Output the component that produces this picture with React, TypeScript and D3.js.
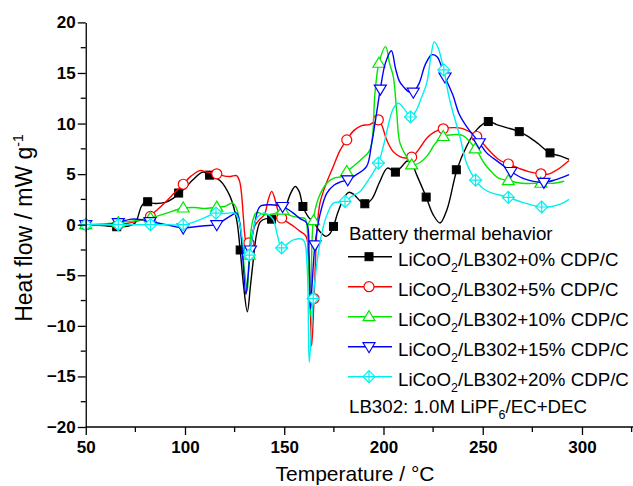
import React, { useEffect, useRef } from 'react';
import * as d3 from 'd3';

const W = 633;
const H = 486;

// axis ticks
const xMajor = [50, 100, 150, 200, 250, 300];
const xMinor = [75, 125, 175, 225, 275, 325];
const yMajor = [-20, -15, -10, -5, 0, 5, 10, 15, 20];
const yMinor = [-17.5, -12.5, -7.5, -2.5, 2.5, 7.5, 12.5, 17.5];

const seriesLabels = ['+0% CDP/C', '+5% CDP/C', '+10% CDP/C', '+15% CDP/C', '+20% CDP/C'];
const seriesColors = ['#000000', '#ff0000', '#00e600', '#0000ff', '#00f0f0'];
const seriesShapes = ['square', 'circle', 'triangle', 'triangleDown', 'diamondPlus'];

// [temperature, heat flow]
const line0 = [
  [50, 0], [60, -0.1], [65, -0.2], [72, -0.1], [75, 0.2], [78, 1.8], [80, 2.25], [85, 2.1], [90, 2.2],
  [94, 2.6], [97, 3.13], [100, 3.6], [104, 4.44], [109, 5.2], [112.4, 4.9], [117.6, 4.37], [122.7, 2.8],
  [126, 0.5], [127.8, -2.5], [129.5, -6], [131.4, -8.6], [133, -6], [134.4, -3.5], [136, -1], [138, 0.3],
  [141, 0.6], [143.6, 0.55], [147, 0.7], [150, 1.4], [153, 3.0], [155.5, 3.78], [157.5, 3.3], [159.4, 1.8],
  [162, 0.8], [165, 0.2], [168, -0.7], [171, -1.15], [173, -0.9], [174.8, -0.17], [177, 1.2], [180, 2.6],
  [182.5, 3.2], [185, 3.0], [188, 2.4], [190.6, 2.07], [194, 2.5], [198, 4.2], [202, 5.6], [206, 5.2],
  [209, 5.7], [212, 6.3], [214, 6.1], [217, 4.8], [221.5, 2.73], [225, 1.0], [228.5, 0.17], [232, 1.5],
  [237, 5.43], [242, 7.8], [247, 9.4], [252.8, 10.2], [257, 9.9], [262, 9.6], [268.4, 9.2], [273, 8.7],
  [278, 8.0], [284, 7.07], [289, 6.8], [293.5, 6.45]
];
const line5 = [
  [50, 0], [60, 0], [70, 0.1], [75, 0.3], [80, 0.6], [85, 1.3], [90, 2.2], [95, 3.2], [99.1, 4.0],
  [103, 4.8], [107.5, 5.35], [111, 5.2], [116, 5.03], [120, 4.8], [123, 4.77], [126, 4.85], [127.5, 4.3],
  [128.5, 3.0], [129.5, 0.5], [130.5, -1.5], [132, -2.2], [133, -1.8], [135, -0.17], [137.5, 0.5],
  [140, 1.0], [142, 2.5], [143.7, 3.29], [145.5, 2.4], [147, 1.3], [148.7, 0.66], [152, 0.2], [155, -0.2],
  [158, -0.66], [161, -1.15], [162.5, -4], [163.8, -12], [165, -7.3], [166.5, -0.5], [168, 2.14],
  [171, 4.0], [174.7, 5.76], [178, 7.3], [181.5, 8.39], [185, 9.3], [189, 9.8], [193, 9.9], [197.4, 10.37],
  [199, 9.9], [202, 8.2], [205, 7.2], [208.3, 6.74], [211, 6.6], [214.2, 6.68], [218, 7.5], [222, 8.6],
  [226, 9.2], [230.1, 9.48], [235, 9.6], [240, 9.5], [247, 8.72], [252, 7.6], [258, 6.45], [262.9, 6.0],
  [268, 5.6], [273, 5.25], [279.3, 5.03], [283, 5.0], [288, 5.5], [293.5, 6.35]
];
const line10 = [
  [50, 0], [60, 0.1], [66.4, 0.2], [75, 0.4], [82.6, 0.66], [90, 1.1], [99.1, 1.65], [105, 1.7],
  [110, 1.6], [116, 1.74], [120, 1.8], [124, 2.14], [126, 1.6], [128, -0.5], [130, -4.5], [131.4, -6.5],
  [132.3, -3.0], [134, 0.3], [136, 1.2], [140, 1.0], [145, 1.1], [149, 1.45], [152, 1.0], [155, 0.8],
  [158, 0.7], [160.5, 0.6], [162, -3], [163.2, -9], [164.6, 0.33], [167, 2.5], [171.4, 4.1], [175, 4.6],
  [179.8, 4.8], [181.5, 5.26], [185, 5.8], [189, 6.5], [193.2, 7.4], [195.7, 13], [197.7, 15.96],
  [201.1, 17.6], [203, 16.0], [205, 14.6], [206.6, 11.3], [208.3, 8.06], [211.6, 6.74], [214.2, 5.92],
  [218, 6.1], [222, 6.8], [226, 8.0], [230.1, 8.72], [235, 8.9], [240, 8.8], [246.4, 7.5], [251, 6.0],
  [255, 5.1], [258, 4.6], [262.9, 4.35], [270, 4.1], [279.3, 4.1], [286, 4.1], [291, 4.3]
];
const line15 = [
  [50, 0], [60, 0], [66, 0.2], [73, 0.55], [78, 0.5], [82.4, 0.3], [88, 0.1], [93, -0.1], [99.1, -0.33],
  [105, -0.2], [110, -0.1], [116, 0], [120, 0.5], [124, 1.0], [126, 1.15], [127.5, 0.3], [129, -3],
  [130.7, -6.9], [131.8, -5], [133, -2.5], [135, 0], [137.8, 1.8], [142.8, 1.97], [149.2, 1.8], [152, 1.5],
  [154.6, 1.15], [158, 0.6], [161.3, 0.17], [162.5, -3], [163.2, -8.3], [164, -6], [165.5, -2.0],
  [168, 1.0], [171.4, 3.1], [175, 3.9], [178, 4.2], [182, 4.44], [186, 4.9], [191.5, 5.76], [194, 8.0],
  [196.5, 11], [198.4, 13.4], [201, 16], [204, 17.2], [206, 15.5], [208, 14.2], [210, 13.65], [213, 13.1],
  [215, 13.1], [218, 14.0], [221, 15.8], [224.3, 16.8], [227, 16.6], [231, 14.6], [235, 12.8], [238, 11.0],
  [241.9, 9.7], [248.3, 8.1], [252, 7.1], [258.7, 6.09], [264.2, 5.26], [270, 4.6], [275.5, 4.28],
  [280.8, 4.18], [286, 4.4], [293.5, 4.95]
];
const line20 = [
  [50, 0], [60, 0], [70, 0], [82.6, 0], [90, 0], [99.1, 0], [105, 0.3], [110, 0.7], [115.6, 1.15],
  [120, 1.1], [125, 1.15], [127, 0.5], [129, -1.5], [131, -3.3], [132.4, -3.0], [134, -1], [136, 0.6],
  [139.4, 1.15], [142, 1.0], [144.5, 0.5], [146.5, -1.0], [148.7, -2.3], [151, -2.0], [154.6, -1.5],
  [159.6, -1.5], [161.5, -4], [162.6, -13.6], [164.6, -7.3], [167, -3], [169.7, -0.17], [172, 1.2],
  [174.7, 2.14], [180.6, 2.3], [184, 2.8], [188.2, 3.29], [193, 4.6], [197.4, 6.09], [200, 7.8],
  [202, 9.5], [205, 11.5], [207.5, 12.0], [211, 11.3], [213.6, 10.65], [216.5, 11.3], [219, 12.5],
  [221.8, 14.0], [224, 16.8], [225.6, 18.1], [227.5, 17.5], [230.4, 15.3], [233.4, 12.3], [238.5, 8.7],
  [242, 6.0], [246.4, 4.4], [250, 3.6], [253.7, 3.2], [262.9, 2.7], [270, 2.2], [279.7, 1.75], [285, 1.8],
  [290, 2.1], [293.5, 2.5]
];

// symbols drawn on each curve
const marks0 = [
  [50, 0], [65.6, -0.2], [81.2, 2.27], [96.8, 3.13], [112.4, 4.9], [127.8, -2.5], [143.6, 0.55],
  [159.4, 1.8], [174.8, -0.17], [190.6, 2.07], [206, 5.2], [221.5, 2.73], [236.7, 5.43], [252.8, 10.2],
  [268.4, 9.2], [283.9, 7.1]
];
const marks5 = [
  [50, 0], [66.4, 0], [82.6, 0.82], [99.1, 4.0], [116, 5.03], [132.2, -1.8], [148.7, 0.66], [165, -7.3],
  [181.5, 8.39], [197.4, 10.37], [214.2, 6.68], [230.1, 9.48], [247, 8.72], [262.9, 6.0], [279.3, 5.03]
];
const marks10 = [
  [50, 0], [66.4, 0.2], [82.6, 0.66], [99.1, 1.65], [116, 1.74], [132.3, -3.0], [149.3, 1.45],
  [164.8, 0.4], [181.5, 5.26], [197.7, 15.96], [214.2, 5.92], [230.1, 8.72], [246.2, 7.5], [262.9, 4.35],
  [279.3, 4.1]
];
const marks15 = [
  [50, 0], [66.4, 0.2], [82.4, 0.3], [99.1, -0.33], [116, 0], [133, -2.5], [149.2, 1.8], [165.5, -2.0],
  [182, 4.44], [198.4, 13.4], [215, 13.1], [231, 14.6], [248.3, 8.1], [264.2, 5.26], [280.8, 4.18]
];
const marks20 = [
  [50, 0], [66.4, 0], [82.6, 0], [99.1, 0], [115.6, 1.15], [132.4, -3.0], [148.7, -2.3], [164.6, -7.3],
  [180.6, 2.3], [197.4, 6.09], [213.6, 10.65], [230.4, 15.3], [246.4, 4.4], [262.9, 2.7], [279.7, 1.75]
];

const lines = [line0, line5, line10, line15, line20];
const marks = [marks0, marks5, marks10, marks15, marks20];

const FONT = 'Arial, "Liberation Sans", sans-serif';

function drawMarker(g, shape, x, y, color) {
  if (shape === 'square') {
    g.append('rect').attr('x', x - 4).attr('y', y - 4).attr('width', 8).attr('height', 8)
      .attr('fill', color).attr('stroke', color).attr('stroke-width', 1);
  } else if (shape === 'circle') {
    g.append('circle').attr('cx', x).attr('cy', y).attr('r', 5)
      .attr('fill', '#fff').attr('stroke', color).attr('stroke-width', 1.2);
  } else if (shape === 'triangle') {
    g.append('path').attr('d', `M${x},${y - 6}L${x + 6},${y + 4}L${x - 6},${y + 4}Z`)
      .attr('fill', '#fff').attr('stroke', color).attr('stroke-width', 1.2);
  } else if (shape === 'triangleDown') {
    g.append('path').attr('d', `M${x},${y + 6}L${x + 6},${y - 4}L${x - 6},${y - 4}Z`)
      .attr('fill', '#fff').attr('stroke', color).attr('stroke-width', 1.2);
  } else {
    g.append('path').attr('d', `M${x},${y - 6}L${x + 6},${y}L${x},${y + 6}L${x - 6},${y}Z`)
      .attr('fill', '#fff').attr('stroke', color).attr('stroke-width', 1.2);
    g.append('path').attr('d', `M${x},${y - 6}V${y + 6}M${x - 6},${y}H${x + 6}`)
      .attr('fill', 'none').attr('stroke', color).attr('stroke-width', 1.2);
  }
}

const Chart = () => {
  const ref = useRef(null);

  useEffect(() => {
    const svg = d3.select(ref.current);
    svg.selectAll('*').remove();

    const x = d3.scaleLinear().domain([50, 325]).range([85.75, 631.6]);
    const y = d3.scaleLinear().domain([-20, 20]).range([427, 22.4]);

    const line = d3.line()
      .x(d => x(d[0]))
      .y(d => y(d[1]))
      .curve(d3.curveCatmullRom.alpha(0.5));

    // curves and symbols
    lines.forEach((data, i) => {
      const g = svg.append('g');
      g.append('path')
        .attr('d', line(data))
        .attr('fill', 'none')
        .attr('stroke', seriesColors[i])
        .attr('stroke-width', 1.4);
      marks[i].forEach(m => drawMarker(g, seriesShapes[i], x(m[0]), y(m[1]), seriesColors[i]));
    });

    // axes
    const xAxis = svg.append('g').attr('transform', `translate(0,${y(-20)})`);
    xAxis.call(d3.axisBottom(x).tickValues(xMajor).tickSize(8).tickSizeOuter(0).tickPadding(6))
      .call(g => g.select('.domain').attr('d', `M${x(50)},0H${W}`).attr('stroke-width', 1.3));
    xAxis.selectAll('.tick line').attr('stroke-width', 1.3);
    xAxis.selectAll('text')
      .style('font-family', FONT).style('font-size', '17px').style('font-weight', 'bold').attr('fill', '#000');
    xMinor.forEach(v => {
      xAxis.append('line').attr('x1', x(v)).attr('x2', x(v)).attr('y1', 0).attr('y2', 5)
        .attr('stroke', '#000').attr('stroke-width', 1.3);
    });

    const yAxis = svg.append('g').attr('transform', `translate(${x(50)},0)`);
    yAxis.call(d3.axisLeft(y).tickValues(yMajor).tickSize(8).tickSizeOuter(0).tickPadding(2))
      .call(g => g.select('.domain').attr('stroke-width', 1.3));
    yAxis.selectAll('.tick line').attr('stroke-width', 1.3);
    yAxis.selectAll('text')
      .style('font-family', FONT).style('font-size', '17px').style('font-weight', 'bold').attr('fill', '#000');
    yMinor.forEach(v => {
      yAxis.append('line').attr('x1', -5).attr('x2', 0).attr('y1', y(v)).attr('y2', y(v))
        .attr('stroke', '#000').attr('stroke-width', 1.3);
    });

    // axis titles
    svg.append('text')
      .attr('x', 355).attr('y', 481)
      .attr('text-anchor', 'middle')
      .style('font-family', FONT).style('font-size', '21px')
      .text('Temperature / °C');

    const yt = svg.append('text')
      .attr('transform', 'translate(32,228) rotate(-90)')
      .attr('text-anchor', 'middle')
      .style('font-family', FONT).style('font-size', '23px');
    yt.append('tspan').text('Heat flow / mW g');
    yt.append('tspan').attr('dy', -9).style('font-size', '14px').text('-1');

    // legend
    const lg = svg.append('g');
    lg.append('text').attr('x', 349).attr('y', 240)
      .style('font-family', FONT).style('font-size', '18.7px')
      .text('Battery thermal behavior');
    seriesLabels.forEach((lab, i) => {
      const ly = 256.7 + i * 30;
      lg.append('line').attr('x1', 348).attr('x2', 392).attr('y1', ly).attr('y2', ly)
        .attr('stroke', seriesColors[i]).attr('stroke-width', 1.4);
      drawMarker(lg, seriesShapes[i], 369, ly, seriesColors[i]);
      const t = lg.append('text').attr('x', 398).attr('y', ly + 9)
        .style('font-family', FONT).style('font-size', '18.7px');
      t.append('tspan').text('LiCoO');
      t.append('tspan').attr('dy', 6).style('font-size', '12.5px').text('2');
      t.append('tspan').attr('dy', -6).text('/LB302' + lab);
    });
    const nt = lg.append('text').attr('x', 349).attr('y', 412.5)
      .style('font-family', FONT).style('font-size', '18.7px');
    nt.append('tspan').text('LB302: 1.0M LiPF');
    nt.append('tspan').attr('dy', 6).style('font-size', '12.5px').text('6');
    nt.append('tspan').attr('dy', -6).text('/EC+DEC');
  }, []);

  return (
    <svg ref={ref} width={W} height={H}
      style={{ position: 'absolute', left: 0, top: 0, background: '#fff' }} />
  );
};

export default function App() {
  return <Chart />;
}
